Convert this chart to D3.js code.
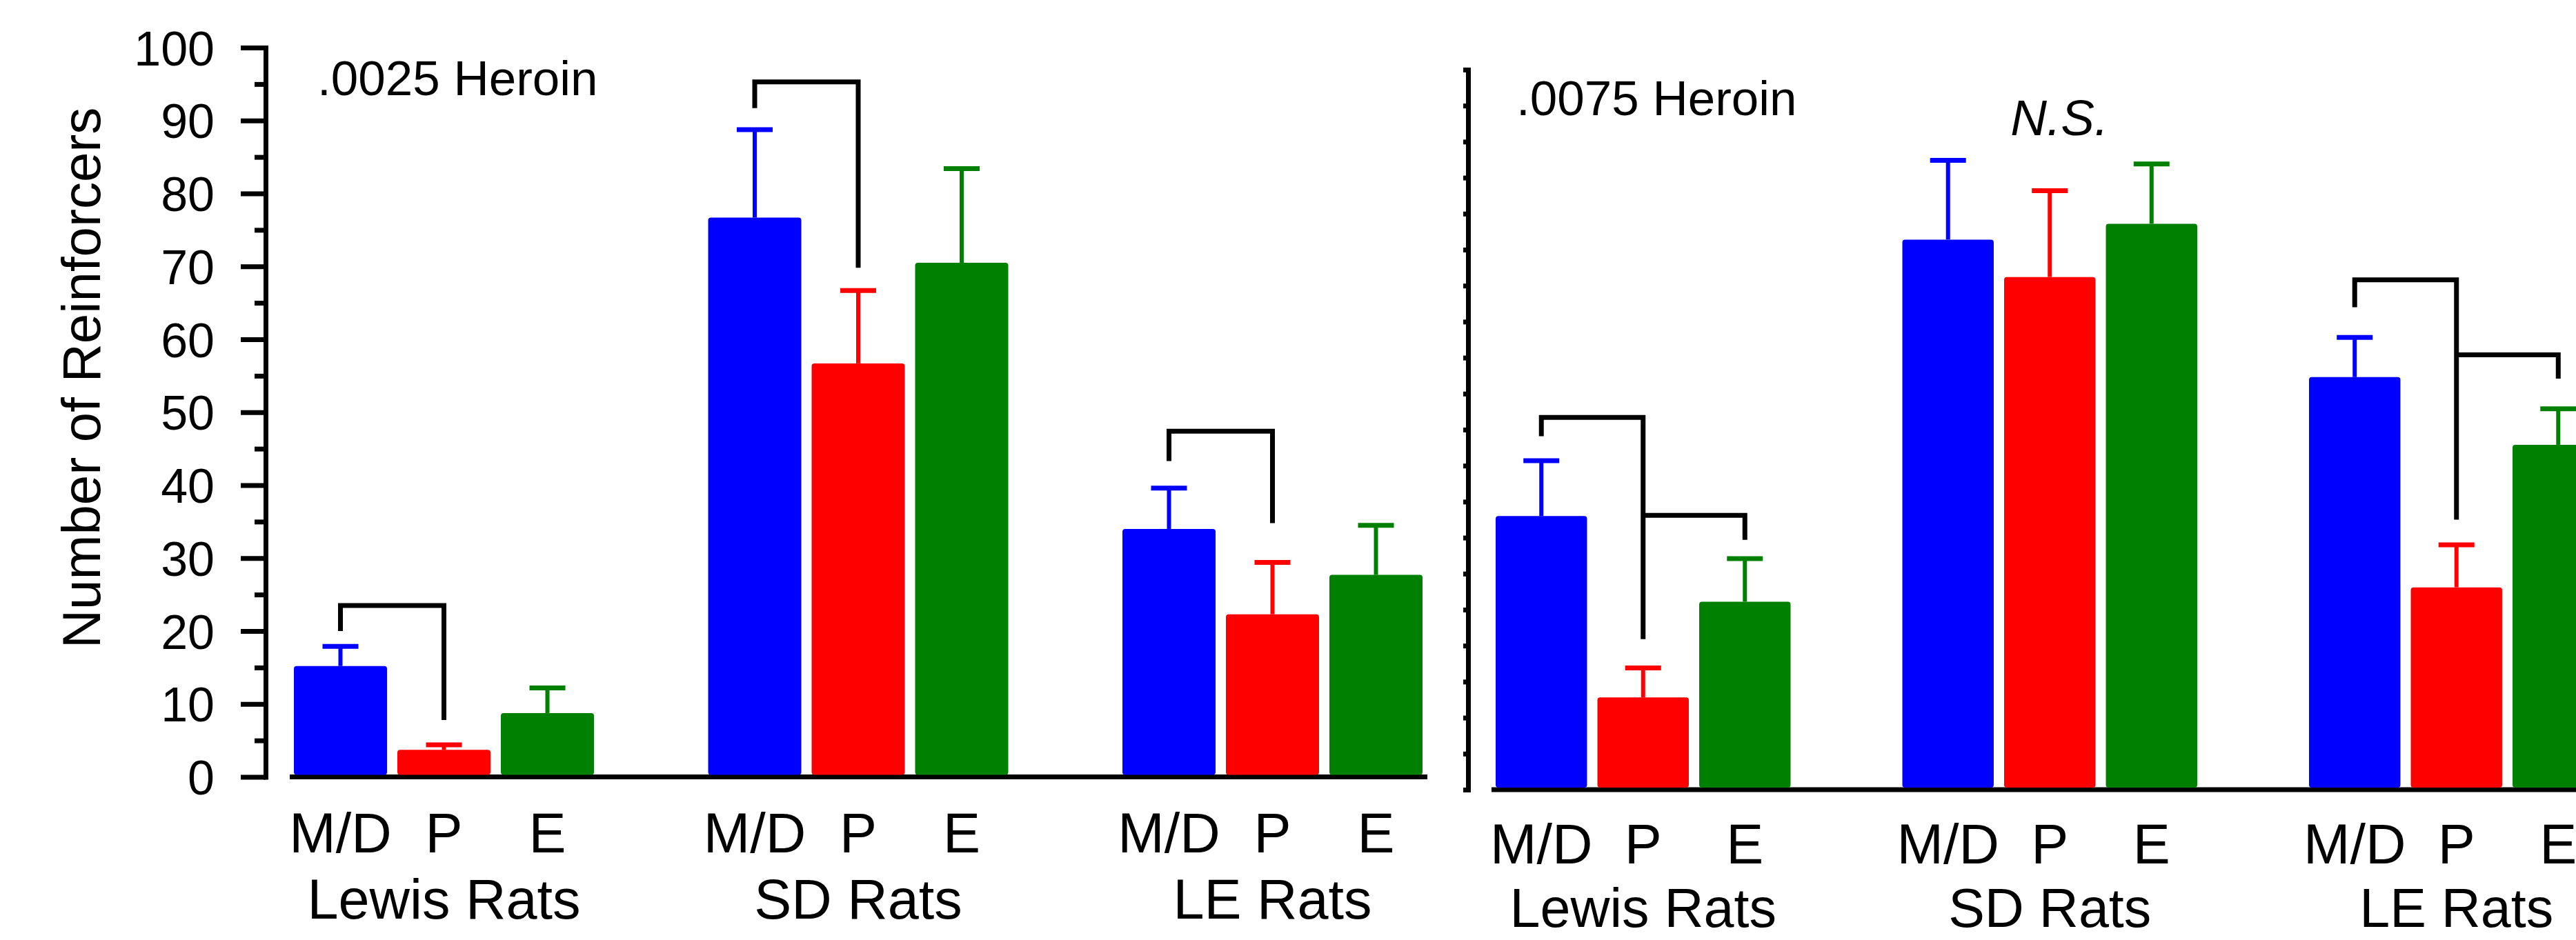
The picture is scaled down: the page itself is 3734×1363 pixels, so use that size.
<!DOCTYPE html>
<html>
<head>
<meta charset="utf-8">
<script src="https://cdn.jsdelivr.net/npm/d3@7"></script>
<style>
  html, body { margin: 0; padding: 0; background: #fff; }
  svg { display: block; font-family: "Liberation Sans", Arial, sans-serif; }
</style>
</head>
<body>
<svg id="chart" width="3734" height="1363"></svg>
<script>
// ---------------- DATA ----------------
const groups = ["Lewis Rats", "SD Rats", "LE Rats"];
const conditions = ["M/D", "P", "E"];
const conditionColors = ["#0000ff", "#ff0000", "#008000"];
const yTickValues = [0, 10, 20, 30, 40, 50, 60, 70, 80, 90, 100];
const yMinorTickValues = [5, 15, 25, 35, 45, 55, 65, 75, 85, 95];
const rightTickValues = [0, 5, 10, 15, 20, 25, 30, 35, 40, 45, 50, 55, 60, 65, 70, 75, 80, 85, 90, 95, 100];

// .0025 Heroin panel: mean and SEM per group [M/D, P, E]
const lowDoseMeans = [[15.2, 3.7, 8.75], [76.7, 56.7, 70.5], [34.0, 22.3, 27.7]];
const lowDoseSEM   = [[2.7, 0.7, 3.45], [12.05, 10.0, 12.9], [5.6, 7.1, 6.8]];
// .0075 Heroin panel
const highDoseMeans = [[38.0, 12.8, 26.1], [76.4, 71.2, 78.6], [57.3, 28.1, 47.9]];
const highDoseSEM   = [[7.7, 4.1, 6.0], [11.0, 12.0, 8.3], [5.5, 5.9, 5.0]];

// significance brackets: [group, fromCond, toCond, topValue, fromLegEnd, toLegEnd]
const lowDoseBrackets = [
  [0, 0, 1, 23.5, 20.0, 7.8],
  [1, 0, 1, 95.3, 91.7, 69.8],
  [2, 0, 1, 47.4, 43.3, 34.8]
];
const highDoseBrackets = [
  [0, 0, 1, 51.7, 49.1, 20.9],
  [0, 1, 2, 38.1, 38.1, 34.7],
  [2, 0, 1, 70.8, 67.0, 37.5],
  [2, 1, 2, 60.4, 60.4, 57.1]
];

const yTitle = "Number of Reinforcers";
const lowDoseLabel = ".0025 Heroin";
const highDoseLabel = ".0075 Heroin";
const nsLabel = "N.S.";

// ---------------- LAYOUT ----------------
const svg = d3.select("#chart");
const FONT = '"Liberation Sans", Arial, sans-serif';

function drawPanel(cfg) {
  const g = svg.append("g");
  const y = d3.scaleLinear().domain([0, 100]).range(cfg.yRange);
  const gx = d3.scaleBand().domain(groups).range(cfg.xRange).paddingInner(cfg.groupPad).paddingOuter(0);
  const cx = d3.scaleBand().domain(conditions).range([0, gx.bandwidth()]).paddingInner(cfg.barPad).paddingOuter(0);
  const center = (gi, ci) => gx(groups[gi]) + cx(conditions[ci]) + cx.bandwidth() / 2;

  // x axis line
  g.append("line")
    .attr("x1", cfg.xRange[0] - 6).attr("x2", cfg.xAxisEnd)
    .attr("y1", y(0)).attr("y2", y(0))
    .attr("stroke", "#000").attr("stroke-width", 7);

  // bars
  groups.forEach((grp, gi) => {
    conditions.forEach((c, ci) => {
      const v = cfg.means[gi][ci];
      const e = cfg.sem[gi][ci];
      const x = gx(grp) + cx(c);
      const col = conditionColors[ci];
      g.append("line")
        .attr("x1", center(gi, ci)).attr("x2", center(gi, ci))
        .attr("y1", y(v)).attr("y2", y(v + e))
        .attr("stroke", col).attr("stroke-width", 6);
      g.append("line")
        .attr("x1", center(gi, ci) - 26).attr("x2", center(gi, ci) + 26)
        .attr("y1", y(v + e)).attr("y2", y(v + e))
        .attr("stroke", col).attr("stroke-width", 7);
      g.append("rect")
        .attr("x", x).attr("y", y(v))
        .attr("width", cx.bandwidth()).attr("height", y(0) - 3 - y(v))
        .attr("rx", 4).attr("ry", 4)
        .attr("fill", col);
    });
  });

  // brackets
  cfg.brackets.forEach(b => {
    const [gi, a, c, top, aEnd, cEnd] = b;
    const p = d3.path();
    p.moveTo(center(gi, a), y(aEnd));
    p.lineTo(center(gi, a), y(top));
    p.lineTo(center(gi, c), y(top));
    p.lineTo(center(gi, c), y(cEnd));
    g.append("path").attr("d", p.toString())
      .attr("fill", "none").attr("stroke", "#000").attr("stroke-width", 7)
      .attr("stroke-linejoin", "miter");
  });

  // category labels
  groups.forEach((grp, gi) => {
    conditions.forEach((c, ci) => {
      g.append("text")
        .attr("x", center(gi, ci)).attr("y", cfg.catBaseline)
        .attr("text-anchor", "middle")
        .attr("font-family", FONT).attr("font-size", 81)
        .text(c);
    });
    g.append("text")
      .attr("x", gx(grp) + gx.bandwidth() / 2).attr("y", cfg.groupBaseline)
      .attr("text-anchor", "middle")
      .attr("font-family", FONT).attr("font-size", cfg.groupFont)
      .text(grp);
  });

  return { g, y, gx, cx, center };
}

// Left panel
const left = drawPanel({
  yRange: [1126.5, 69],
  xRange: [426, 2062],
  groupPad: 0.2756,
  barPad: 0.1,
  xAxisEnd: 2069,
  means: lowDoseMeans,
  sem: lowDoseSEM,
  brackets: lowDoseBrackets,
  catBaseline: 1236,
  groupBaseline: 1332,
  groupFont: 81
});

// Left y axis (major + minor)
const yAxisG = svg.append("g").attr("transform", "translate(385,0)");
yAxisG.call(d3.axisLeft(left.y).tickValues(yTickValues).tickSize(36).tickSizeOuter(0).tickPadding(38).tickFormat(d3.format("d")));
yAxisG.select(".domain").attr("stroke-width", 7).attr("stroke-linecap", "square");
yAxisG.selectAll(".tick line").attr("stroke-width", 7);
yAxisG.selectAll(".tick text").attr("font-size", 70).attr("font-family", FONT).attr("fill", "#000").attr("dy", "0.36em");
const yMinorG = svg.append("g").attr("transform", "translate(385,0)");
yMinorG.call(d3.axisLeft(left.y).tickValues(yMinorTickValues).tickSize(16).tickSizeOuter(0).tickFormat(""));
yMinorG.select(".domain").remove();
yMinorG.selectAll(".tick line").attr("stroke-width", 7);

// y title
svg.append("text")
  .attr("transform", "translate(145,548) rotate(-90)")
  .attr("text-anchor", "middle")
  .attr("font-family", FONT).attr("font-size", 78)
  .text(yTitle);

svg.append("text")
  .attr("x", 460).attr("y", left.y(93.5))
  .attr("font-family", FONT).attr("font-size", 71)
  .text(lowDoseLabel);

// Right panel
const right = drawPanel({
  yRange: [1145, 101],
  xRange: [2168, 3774.5],
  groupPad: 0.2748,
  barPad: 0.102,
  xAxisEnd: 3740,
  means: highDoseMeans,
  sem: highDoseSEM,
  brackets: highDoseBrackets,
  catBaseline: 1252,
  groupBaseline: 1344,
  groupFont: 79
});

const rAxisG = svg.append("g").attr("transform", "translate(2128,0)");
rAxisG.call(d3.axisLeft(right.y).tickValues(rightTickValues).tickSize(7).tickSizeOuter(0).tickFormat(""));
rAxisG.select(".domain").attr("stroke-width", 7).attr("stroke-linecap", "square");
rAxisG.selectAll(".tick line").attr("stroke-width", 7);

svg.append("text")
  .attr("x", 2198).attr("y", right.y(93.7))
  .attr("font-family", FONT).attr("font-size", 71)
  .text(highDoseLabel);

svg.append("text")
  .attr("x", right.gx("SD Rats") + right.gx.bandwidth() / 2 + 14).attr("y", right.y(90.9))
  .attr("text-anchor", "middle")
  .attr("font-family", FONT).attr("font-size", 73).attr("font-style", "italic")
  .text(nsLabel);
</script>
</body>
</html>
